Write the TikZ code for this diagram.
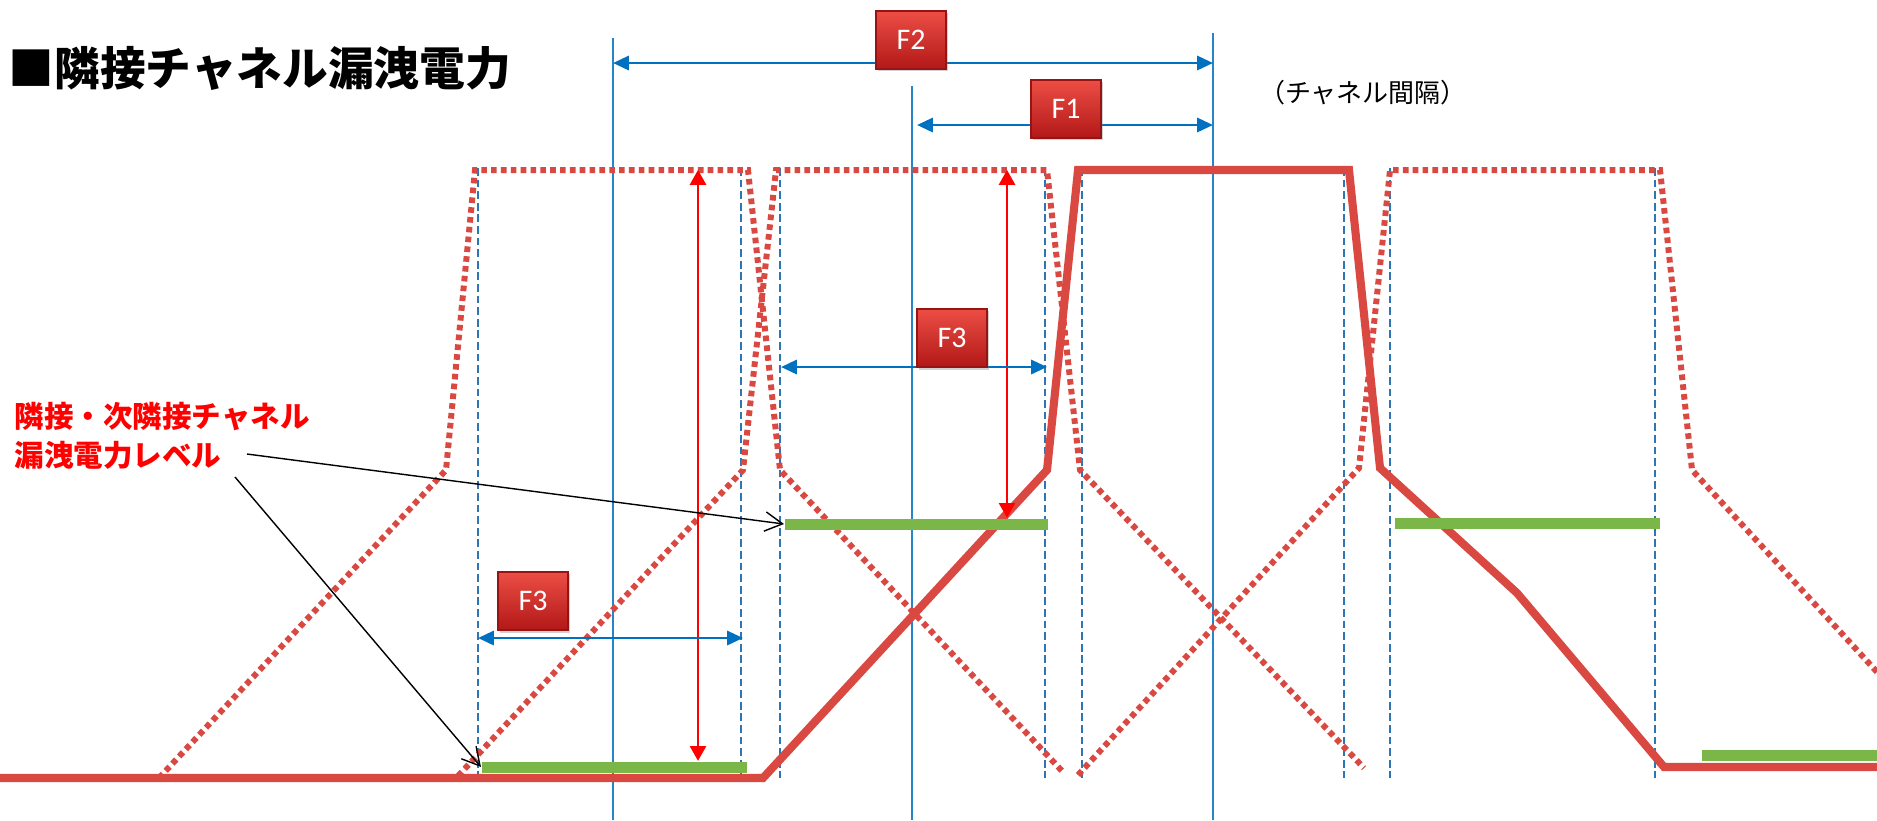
\documentclass[tikz,border=0pt]{standalone}
\usepackage{fontspec}
\setmainfont{Noto Sans CJK JP}
\newfontfamily\flabelfont{Carlito}
\usepackage{xcolor}
\usepackage{tikz}
\usetikzlibrary{arrows.meta,positioning,shadows}
\definecolor{chanblue}{RGB}{0,112,192}
\definecolor{edgeblue}{RGB}{46,117,182}
\definecolor{sigred}{RGB}{217,73,66}
\definecolor{bargreen}{RGB}{122,182,72}
\definecolor{fboxtop}{RGB}{236,78,68}
\definecolor{fboxbot}{RGB}{178,24,24}
\definecolor{fboxedge}{RGB}{150,20,20}

\begin{document}
\begin{tikzpicture}[
		x=0.01cm,
		y=-0.01cm,
		fbox/.style={
			rectangle,
			minimum width=0.7cm,
			minimum height=0.58cm,
			top color=fboxtop,
			bottom color=fboxbot,
			draw=fboxedge,
			line width=0.4pt,
			text=white,
			font=\flabelfont\fontsize{8.5}{10}\selectfont,
			drop shadow={opacity=0.35,shadow xshift=0.5pt,shadow yshift=-0.7pt}
		},
		dimarrow/.style={
			{Triangle[length=4.5pt,width=4pt]}-{Triangle[length=4.5pt,width=4pt]},
			draw=chanblue,
			line width=0.8pt
		},
		levelarrow/.style={
			{Triangle[length=4.2pt,width=4.6pt]}-{Triangle[length=4.2pt,width=4.6pt]},
			draw=red,
			line width=0.55pt
		},
		callout/.style={
			-{Straight Barb[length=5pt,width=5.5pt]},
			draw=black,
			line width=0.4pt
		},
		centerline/.style={
			draw=chanblue!85!white,
			line width=0.45pt
		},
		edgeline/.style={
			draw=edgeblue,
			line width=0.6pt,
			dash pattern=on 2.2pt off 1.1pt
		},
		leakline/.style={
			draw=sigred,
			line width=1.7pt,
			dash pattern=on 1.6pt off 1.2pt
		},
		sigline/.style={
			draw=sigred,
			line width=2.3pt
		},
		lvlbar/.style={
			rectangle,
			fill=bargreen,
			inner sep=0pt,
			minimum height=0.11cm,
			anchor=west
		}
		]
		
		\useasboundingbox[fill=white] (0,0) rectangle (1877,820);
		
		\node[anchor=west, inner sep=0pt, font=\bfseries\fontsize{13}{15}\selectfont] (title) at (8,68) {■隣接チャネル漏洩電力};
		\node[inner sep=0pt, font=\fontsize{7.4}{9}\selectfont] (spacing) at (1363,93) {（チャネル間隔）};
		\node[anchor=west, inner sep=0pt, align=left, text=red, font=\bfseries\fontsize{8.4}{11.1}\selectfont] (lvltext) at (14,436) {隣接・次隣接チャネル\\漏洩電力レベル};
		
		\draw[edgeline] (478,168) -- (478,778);
		\draw[edgeline] (741,168) -- (741,778);
		\draw[edgeline] (780,168) -- (780,778);
		\draw[edgeline] (1045,168) -- (1045,778);
		\draw[edgeline] (1082,168) -- (1082,778);
		\draw[edgeline] (1344,168) -- (1344,778);
		\draw[edgeline] (1390,168) -- (1390,778);
		\draw[edgeline] (1655,168) -- (1655,778);
		
		\draw[centerline] (613,38) -- (613,820);
		\draw[centerline] (912,86) -- (912,820);
		\draw[centerline] (1213,33) -- (1213,820);
		
		\draw[leakline] (159,778) -- (446,470) -- (475,170) -- (748,170) -- (780,470) -- (1063,772);
		\draw[leakline] (458,776) -- (743,470) -- (776,170) -- (1047,170) -- (1080,470) -- (1364,768);
		\draw[leakline] (1078,775) -- (1359,468) -- (1390,170) -- (1660,170) -- (1692,470) -- (1877,672);
		
		\draw[sigline] (0,778) -- (763,778) -- (1047,470) -- (1078,170) -- (1349,170) -- (1380,468) -- (1517,593) -- (1664,767) -- (1877,767);
		
		\node[lvlbar, minimum width=2.65cm] (bar1) at (481,767) {};
		\node[lvlbar, minimum width=2.63cm] (bar2) at (784,524) {};
		\node[lvlbar, minimum width=2.65cm] (bar3) at (1394,523) {};
		\node[lvlbar, minimum width=1.76cm] (bar4) at (1701,755) {};
		
		\coordinate (top1) at (698,170);
		\coordinate (top2) at (1007,170);
		\draw[levelarrow] (top1) -- (bar1.north -| top1);
		\draw[levelarrow] (top2) -- (bar2.north -| top2);
		
		\coordinate (f2l) at (613,63);
		\coordinate (f2r) at (1213,63);
		\coordinate (f1l) at (917,125);
		\coordinate (f1r) at (1213,125);
		\coordinate (f3al) at (781,367);
		\coordinate (f3ar) at (1047,367);
		\coordinate (f3bl) at (478,638);
		\coordinate (f3br) at (743,638);
		\draw[dimarrow] (f2l) -- (f2r);
		\draw[dimarrow] (f1l) -- (f1r);
		\draw[dimarrow] (f3al) -- (f3ar);
		\draw[dimarrow] (f3bl) -- (f3br);
		
		\node[fbox] (f2) at (911,40) {F2};
		\node[fbox] (f1) at (1066,109) {F1};
		\node[fbox] (f3a) at (952,338) {F3};
		\node[fbox] (f3b) at (533,601) {F3};
		
		\coordinate (lvlA) at (247,454);
		\coordinate (lvlB) at (235,477);
		\draw[callout] (lvlA) -- (bar2.west);
		\draw[callout] (lvlB) -- (bar1.west);
		
	\end{tikzpicture}
\end{document}
